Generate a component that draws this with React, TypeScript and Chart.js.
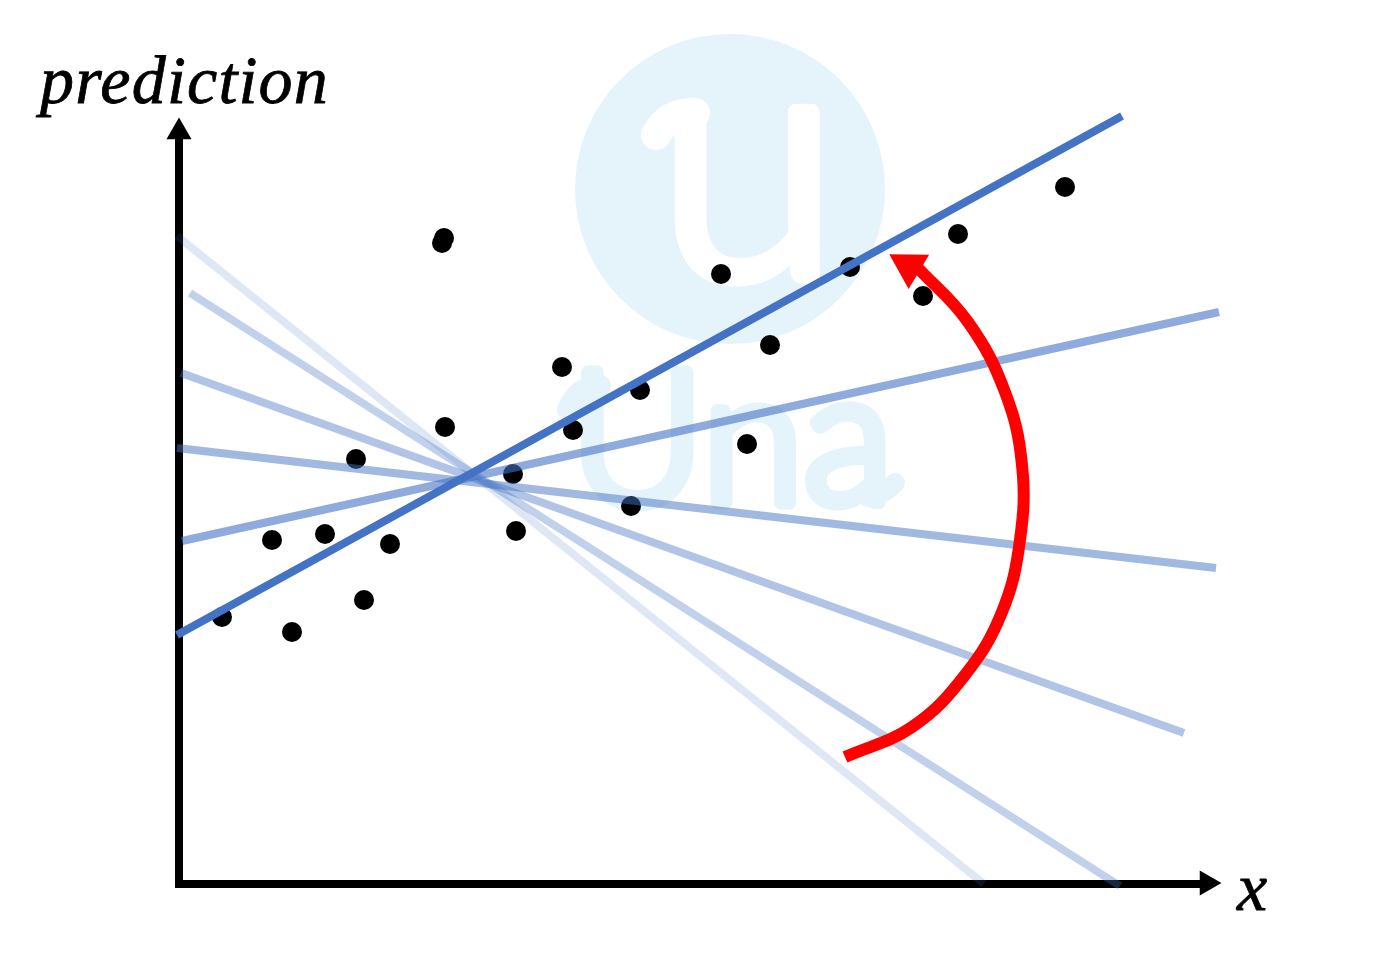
import React, { useEffect, useRef } from "react";
import { Chart, registerables } from "chart.js";

Chart.register(...registerables);

// scattered samples
const sampleX = [44, 94, 114, 147, 186, 178, 212, 264, 266, 267, 335, 338, 384, 395, 453, 462, 543, 569, 592, 672, 745, 780, 887];
const sampleY = [267, 344, 252, 350, 284, 425, 340, 641, 646, 457, 410, 353, 517, 454, 378, 494, 610, 440, 539, 617, 588, 650, 697];

// candidate fit lines, oldest first: [x0, x1], [y0, y1], opacity
const fitX = [[-1, 806], [12, 942], [3, 1006], [-1, 1038], [4, 1041], [-1, 944]];
const fitY = [[648, 0], [591, -2], [511, 151], [436, 316], [343, 572], [249, 768]];
const fitAlpha = [0.17, 0.33, 0.42, 0.5, 0.6, 1];

// sweep arrow
const sweepX = [667, 734, 787, 824, 842, 844, 827, 790, 738];
const sweepY = [127, 157, 209, 272, 344, 419, 492, 562, 618];

const zip = (xs: number[], ys: number[]) => xs.map((x, i) => ({ x, y: ys[i] }));

const labelsPlugin = {
    id: "labels",
    // watermark text sits right on top of the logo circle
    afterDatasetDraw(chart: any, args: any) {
        if (chart.data.datasets[args.index].label !== "logo") return;
        const ctx = chart.ctx;
        ctx.save();
        ctx.lineJoin = "round";
        ctx.lineCap = "round";
        ctx.textBaseline = "alphabetic";

        ctx.fillStyle = "#ffffff";
        ctx.strokeStyle = "#ffffff";
        ctx.lineWidth = 16;
        ctx.font = "300 330px Lato";
        ctx.textAlign = "center";
        ctx.fillText("u", 748, 276);
        ctx.strokeText("u", 748, 276);
        // hook on the logo's u
        ctx.lineWidth = 30;
        ctx.beginPath();
        ctx.moveTo(656, 135);
        ctx.quadraticCurveTo(668, 112, 695, 113);
        ctx.stroke();

        ctx.fillStyle = "#e5f3fa";
        ctx.strokeStyle = "#e5f3fa";
        ctx.lineWidth = 13;
        ctx.font = "300 185px Lato";
        ctx.textAlign = "left";
        ctx.fillText("Una", 570, 503);
        ctx.strokeText("Una", 570, 503);
        // hook on the U, tail on the a
        ctx.lineWidth = 22;
        ctx.beginPath();
        ctx.moveTo(568, 410);
        ctx.quadraticCurveTo(578, 386, 600, 386);
        ctx.stroke();
        ctx.lineWidth = 20;
        ctx.beginPath();
        ctx.moveTo(868, 497);
        ctx.quadraticCurveTo(880, 497, 895, 483);
        ctx.stroke();
        ctx.restore();
    },
    afterDraw(chart: any) {
        const ctx = chart.ctx;
        ctx.save();
        ctx.fillStyle = "#000000";
        ctx.strokeStyle = "#000000";
        ctx.lineWidth = 0.8;
        ctx.textAlign = "left";
        ctx.font = 'italic 68px "Liberation Serif"';
        ctx.letterSpacing = "1.2px";
        ctx.fillText("prediction", 40, 103);
        ctx.strokeText("prediction", 40, 103);
        ctx.fillText("x", 1237, 910);
        ctx.strokeText("x", 1237, 910);
        ctx.restore();
    },
};

const App: React.FC = () => {
    const canvasRef = useRef<HTMLCanvasElement | null>(null);

    useEffect(() => {
        if (!canvasRef.current) return;
        const chart = new Chart(canvasRef.current, {
            type: "scatter",
            data: {
                datasets: [
                    {
                        label: "logo",
                        data: [{ x: 552, y: 695 }],
                        pointRadius: 155,
                        pointBorderWidth: 0,
                        pointBackgroundColor: "#e5f3fa",
                        order: 20,
                    },
                    {
                        label: "samples",
                        data: zip(sampleX, sampleY),
                        pointRadius: 10,
                        pointBorderWidth: 0,
                        pointBackgroundColor: "#000000",
                        order: 15,
                    },
                    {
                        label: "x axis",
                        data: [{ x: -3, y: 0 }, { x: 1025, y: 0 }],
                        showLine: true,
                        borderColor: "#000000",
                        borderWidth: 8,
                        pointRadius: 0,
                        order: 14,
                    },
                    {
                        label: "y axis",
                        data: [{ x: 1, y: -4 }, { x: 1, y: 745 }],
                        showLine: true,
                        borderColor: "#000000",
                        borderWidth: 8,
                        pointRadius: 0,
                        order: 14,
                    },
                    {
                        label: "axis arrows",
                        data: [{ x: 1029, y: 1 }, { x: 1, y: 752 }],
                        pointStyle: "triangle",
                        pointRotation: [90, 0],
                        pointRadius: 14.5,
                        pointBorderWidth: 0,
                        pointBackgroundColor: "#000000",
                        order: 13,
                    },
                    ...fitX.map((xs, i) => ({
                        label: `fit ${i + 1}`,
                        data: zip(xs, fitY[i]),
                        showLine: true,
                        borderColor: `rgba(68, 114, 196, ${fitAlpha[i]})`,
                        borderWidth: 8,
                        pointRadius: 0,
                        order: 12 - i,
                    })),
                    {
                        label: "sweep",
                        data: zip(sweepX, sweepY),
                        showLine: true,
                        tension: 0.4,
                        borderColor: "#ff0000",
                        borderWidth: 12,
                        pointRadius: 0,
                        order: 2,
                    },
                    {
                        label: "sweep head",
                        data: [{ x: 731, y: 618 }],
                        pointStyle: "triangle",
                        pointRotation: -59,
                        pointRadius: 23,
                        pointBorderWidth: 0,
                        pointBackgroundColor: "#ff0000",
                        order: 1,
                    },
                ].map((d) => ({ ...d, clip: false })) as any,
            },
            options: {
                responsive: false,
                animation: false,
                events: [],
                layout: { autoPadding: false, padding: { left: 178, right: 178, top: 118, bottom: 74 } },
                plugins: { legend: { display: false }, tooltip: { enabled: false } },
                scales: {
                    x: { type: "linear", display: false, min: 0, max: 1044 },
                    y: { type: "linear", display: false, min: 0, max: 766 },
                },
            },
            plugins: [labelsPlugin],
        });

        return () => {
            chart.destroy();
        };
    }, []);

    return (
        <div style={{ position: "absolute", left: 0, top: 0 }}>
            <canvas ref={canvasRef} width={1400} height={958} style={{ display: "block" }} />
        </div>
    );
};

export default App;
